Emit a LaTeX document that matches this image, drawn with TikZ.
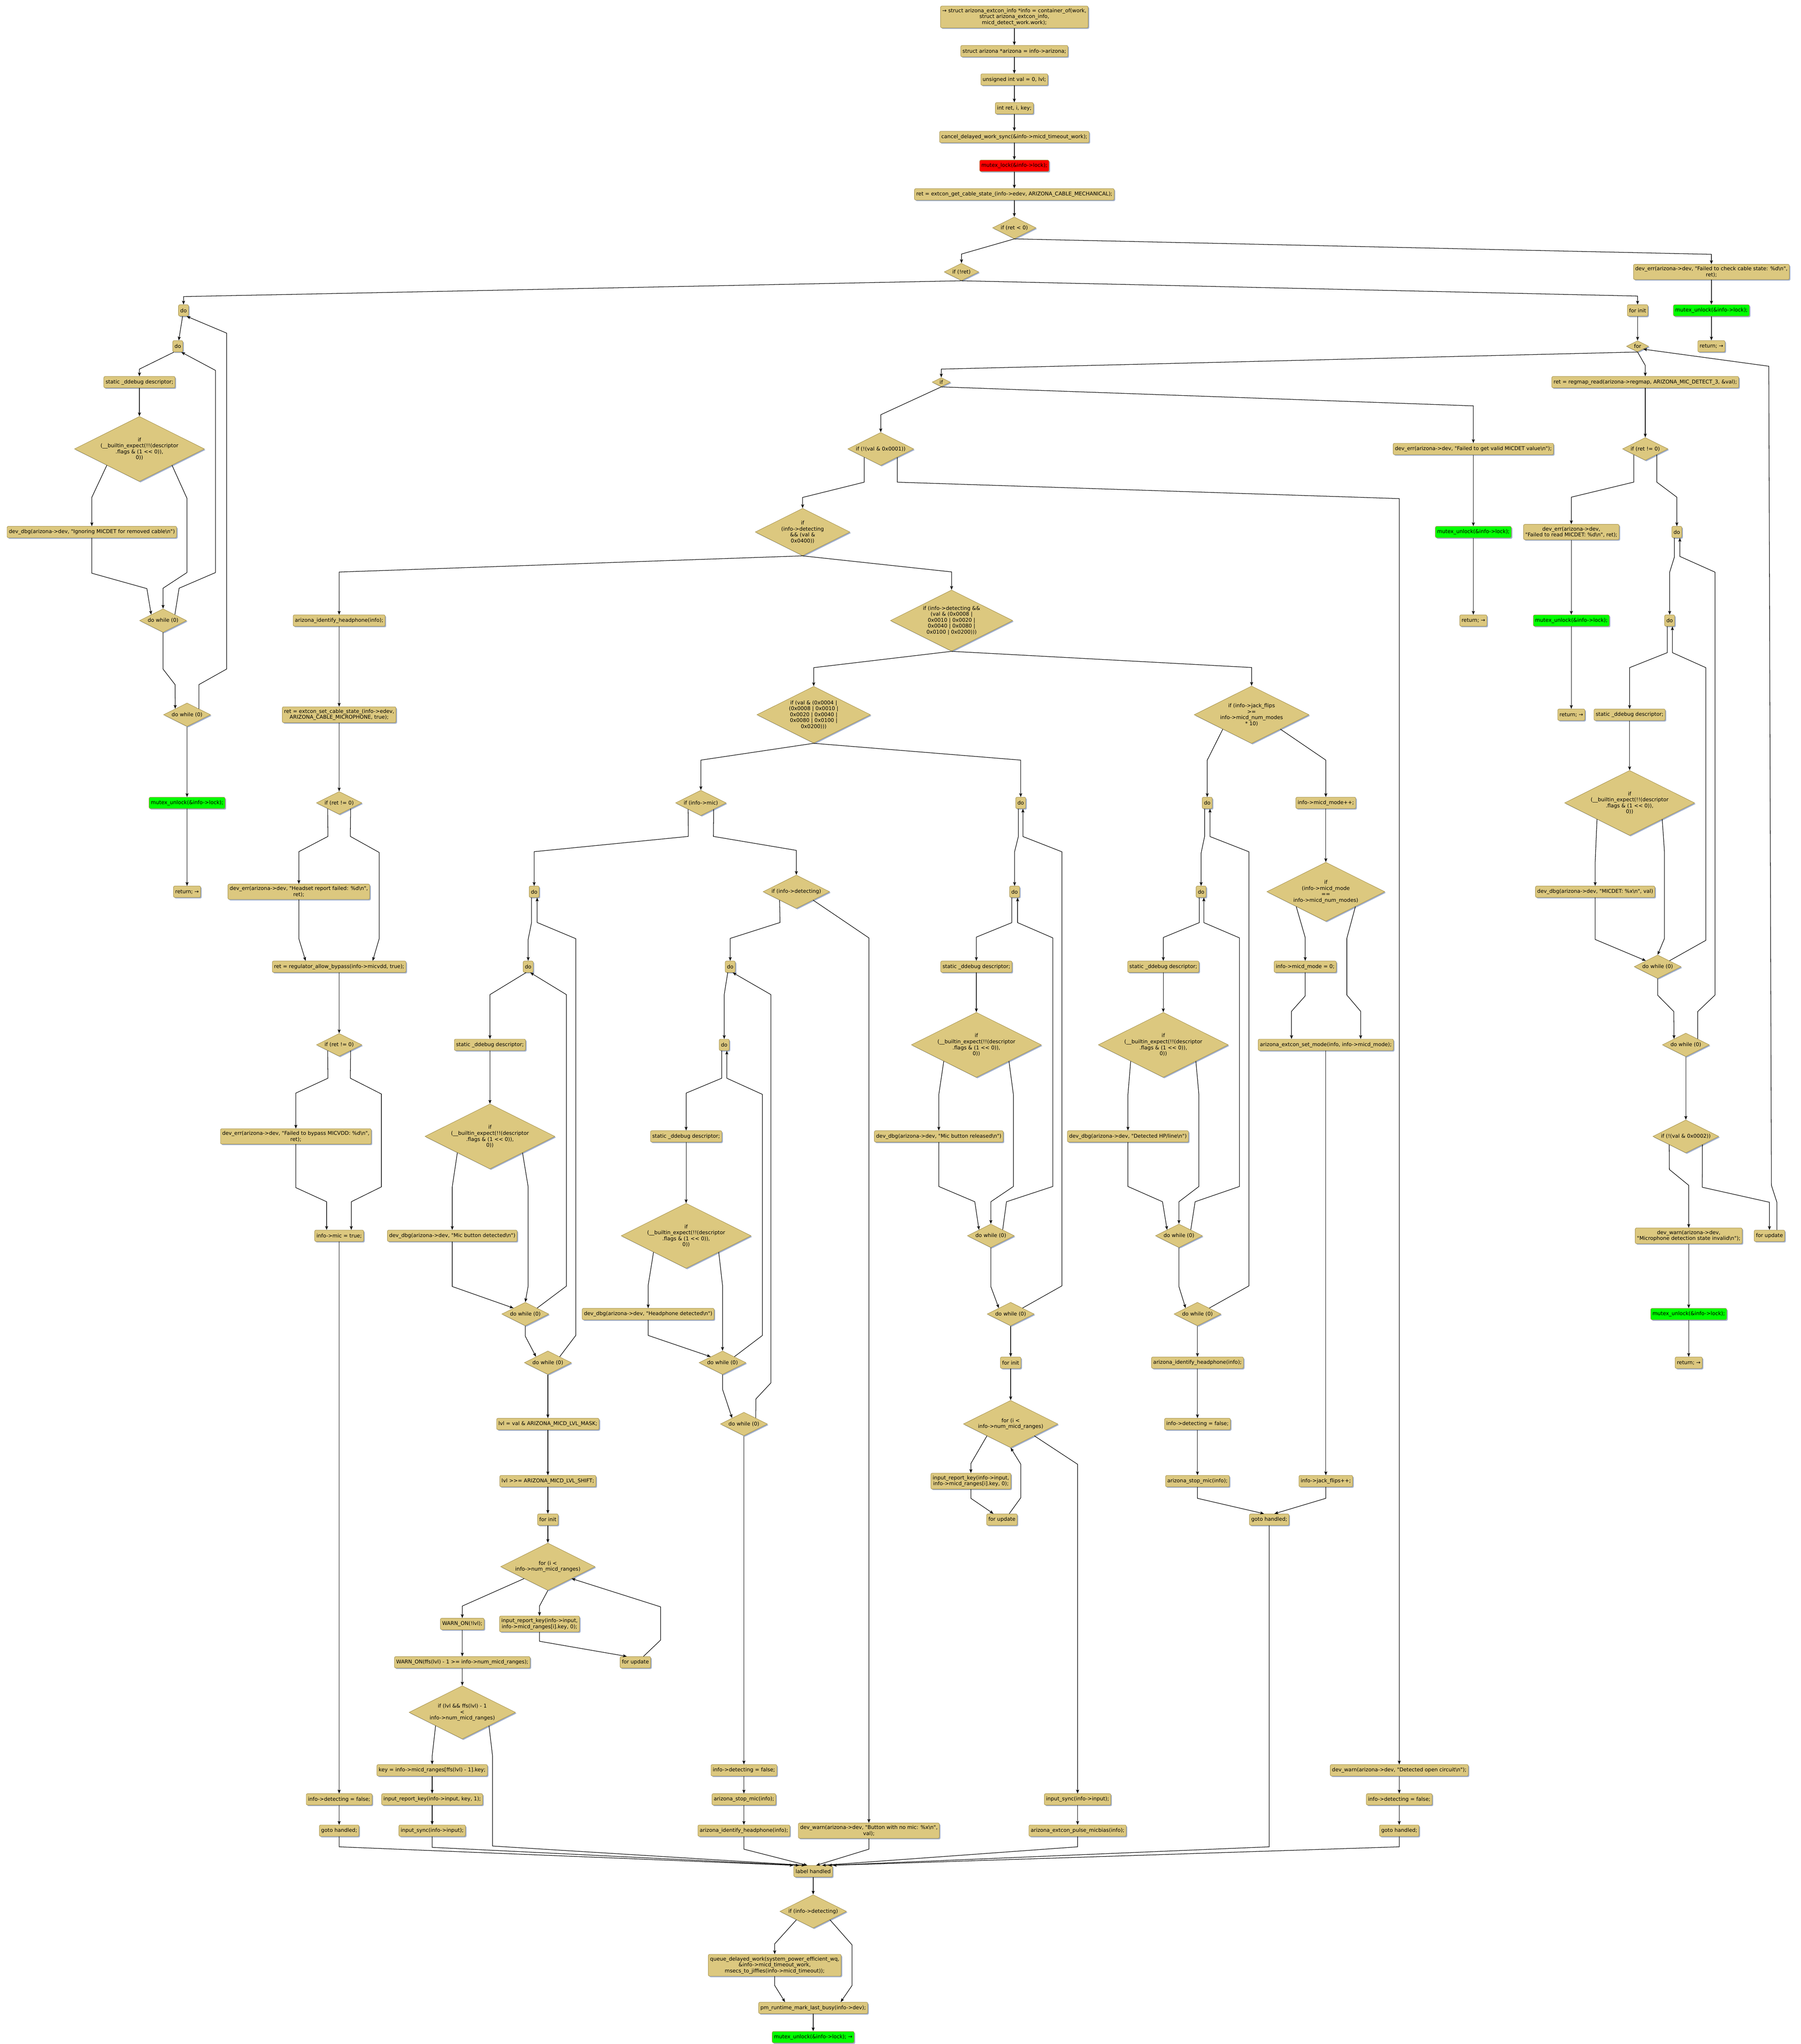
\documentclass[tikz,border=0pt]{standalone}
\usepackage{fontspec}
\newfontfamily\codefont{DejaVu Sans}
\usetikzlibrary{shapes.geometric,arrows.meta,shadows}
\definecolor{nodefill}{RGB}{220,200,127}
\definecolor{nodeline}{RGB}{165,145,75}
\definecolor{shadowc}{RGB}{160,175,205}
\definecolor{lockred}{RGB}{255,0,0}
\definecolor{unlockgreen}{RGB}{0,255,0}

\tikzset{
  stmt/.style={rectangle, rounded corners=1mm, draw=nodeline, fill=nodefill,
    line width=0.3mm, inner xsep=1.35mm, inner ysep=1.8mm, minimum height=8.7mm,
    align=center, drop shadow={shadow xshift=0.8mm, shadow yshift=-0.8mm, fill=shadowc, opacity=1}},
  cond/.style={diamond, aspect=2, inner sep=0.9mm, draw=nodeline, fill=nodefill,
    line width=0.3mm, align=center,
    drop shadow={shadow xshift=0.8mm, shadow yshift=-0.8mm, fill=shadowc, opacity=1}},
  lockstmt/.style={stmt, fill=lockred},
  unlockstmt/.style={stmt, fill=unlockgreen},
  flow/.style={line width=0.4mm, -{Stealth[length=2.9mm,width=2.3mm,inset=0.6mm]}}
}

\begin{document}
\begin{tikzpicture}[x=1mm, y=-1mm, font=\codefont\fontsize{11.3}{13}\selectfont]
  \useasboundingbox (0,0) rectangle (1380.6,1567.2);

  \node[stmt] (start) at (777.6,13) {→ struct arizona\_extcon\_info *info = container\_of(work,\\struct arizona\_extcon\_info,\\micd\_detect\_work.work);};
  \node[stmt] (arz) at (777.6,39.2) {struct arizona *arizona = info->arizona;};
  \node[stmt] (valdecl) at (777.6,61) {unsigned int val = 0, lvl;};
  \node[stmt] (retdecl) at (777.6,83) {int ret, i, key;};
  \node[stmt] (cancel) at (777.6,105) {cancel\_delayed\_work\_sync(\&info->micd\_timeout\_work);};
  \node[lockstmt] (lock) at (777.6,127.1) {mutex\_lock(\&info->lock);};
  \node[stmt] (getstate) at (777.6,149) {ret = extcon\_get\_cable\_state\_(info->edev, ARIZONA\_CABLE\_MECHANICAL);};
  \node[cond] (ifneg) at (777.6,174.7) {if (ret < 0)};
  \node[cond] (ifnot) at (737.1,208.5) {if (!ret)};
  \node[stmt] (errstate) at (1312,208.5) {dev\_err(arizona->dev, "Failed to check cable state: \%d\textbackslash n",\\ret);};
  \node[unlockstmt] (unlockA) at (1312,238) {mutex\_unlock(\&info->lock);};
  \node[stmt] (retA) at (1312,265.5) {return; →};
  \node[stmt] (forinit) at (1255.4,238) {for init};
  \node[cond] (fordia) at (1255.4,265.5) {for};

  \node[stmt] (doA1) at (140.7,238) {do};
  \node[stmt] (doA2) at (136.3,265.5) {do};
  \node[stmt] (ddA) at (106.9,293) {static \_ddebug descriptor;};
  \node[cond] (ifdbgA) at (106.9,344.2) {if\\(\_\_builtin\_expect(!!(descriptor\\.flags \& (1 << 0)),\\0))};
  \node[stmt] (dbgA) at (70.4,407.9) {dev\_dbg(arizona->dev, "Ignoring MICDET for removed cable\textbackslash n")};
  \node[cond] (dwA1) at (125,475.8) {do while (0)};
  \node[cond] (dwA2) at (143.4,548) {do while (0)};
  \node[unlockstmt] (unlockB) at (143.4,615.6) {mutex\_unlock(\&info->lock);};
  \node[stmt] (retB) at (143.4,683.7) {return; →};

  \node[stmt] (regmap) at (1261.3,293) {ret = regmap\_read(arizona->regmap, ARIZONA\_MIC\_DETECT\_3, \&val);};
  \node[cond] (ifreterr) at (1261.3,344.2) {if (ret != 0)};
  \node[stmt] (errread) at (1204.6,407.9) {dev\_err(arizona->dev,\\"Failed to read MICDET: \%d\textbackslash n", ret);};
  \node[stmt] (doH1) at (1285.5,407.9) {do};
  \node[unlockstmt] (unlockC) at (1204.6,475.8) {mutex\_unlock(\&info->lock);};
  \node[stmt] (doH2) at (1280,475.8) {do};
  \node[stmt] (retC) at (1204.6,548) {return; →};
  \node[stmt] (ddH) at (1249.3,548) {static \_ddebug descriptor;};
  \node[cond] (ifdbgH) at (1249.3,615.6) {if\\(\_\_builtin\_expect(!!(descriptor\\.flags \& (1 << 0)),\\0))};
  \node[stmt] (dbgH) at (1222.9,683.7) {dev\_dbg(arizona->dev, "MICDET: \%x\textbackslash n", val)};
  \node[cond] (dwH1) at (1270.8,741.2) {do while (0)};
  \node[cond] (dwH2) at (1292.4,801.1) {do while (0)};
  \node[cond] (ifvalid) at (1292.4,871.3) {if (!(val \& 0x0002))};
  \node[stmt] (warninv) at (1294.6,947.5) {dev\_warn(arizona->dev,\\"Microphone detection state invalid\textbackslash n");};
  \node[stmt] (forupd) at (1356.5,947.5) {for update};
  \node[unlockstmt] (unlockD) at (1294.6,1007.5) {mutex\_unlock(\&info->lock);};
  \node[stmt] (retD) at (1294.6,1044.8) {return; →};

  \node[cond] (ifretry) at (721.6,293) {if};
  \node[stmt] (errvalid) at (1129.5,344.2) {dev\_err(arizona->dev, "Failed to get valid MICDET value\textbackslash n");};
  \node[unlockstmt] (unlockE) at (1129.5,407.9) {mutex\_unlock(\&info->lock);};
  \node[stmt] (retE) at (1129.5,475.8) {return; →};
  \node[cond] (ifsts) at (675.2,344.2) {if (!(val \& 0x0001))};
  \node[stmt] (warnopen) at (1072.7,1357.3) {dev\_warn(arizona->dev, "Detected open circuit\textbackslash n");};
  \node[stmt] (detoffG) at (1072.7,1379.6) {info->detecting = false;};
  \node[stmt] (gotoG) at (1072.7,1403.6) {goto handled;};

  \node[cond] (ifhigh) at (615.3,407.9) {if\\(info->detecting\\\&\& (val \&\\0x0400))};
  \node[cond] (iflow) at (729.5,475.8) {if (info->detecting \&\&\\(val \& (0x0008 |\\0x0010 | 0x0020 |\\0x0040 | 0x0080 |\\0x0100 | 0x0200)))};
  \node[cond] (ifshort) at (623.8,548) {if (val \& (0x0004 |\\(0x0008 | 0x0010 |\\0x0020 | 0x0040 |\\0x0080 | 0x0100 |\\0x0200)))};
  \node[stmt] (identB) at (260,475.8) {arizona\_identify\_headphone(info);};
  \node[stmt] (setmic) at (260,548) {ret = extcon\_set\_cable\_state\_(info->edev,\\ARIZONA\_CABLE\_MICROPHONE, true);};
  \node[cond] (ifhset) at (260,615.6) {if (ret != 0)};
  \node[stmt] (errhset) at (229.1,683.7) {dev\_err(arizona->dev, "Headset report failed: \%d\textbackslash n",\\ret);};
  \node[stmt] (bypass) at (260,741.2) {ret = regulator\_allow\_bypass(info->micvdd, true);};
  \node[cond] (ifbypass) at (260,801.1) {if (ret != 0)};
  \node[stmt] (errbypass) at (226.8,871.3) {dev\_err(arizona->dev, "Failed to bypass MICVDD: \%d\textbackslash n",\\ret);};
  \node[stmt] (micon) at (260,947.5) {info->mic = true;};
  \node[stmt] (detoffB) at (260,1379.6) {info->detecting = false;};
  \node[stmt] (gotoB) at (260,1403.6) {goto handled;};

  \node[cond] (ifmic) at (537.3,615.6) {if (info->mic)};
  \node[cond] (ifdet) at (610.5,683.7) {if (info->detecting)};
  \node[stmt] (doC1) at (409.5,683.7) {do};
  \node[stmt] (doC2) at (404.9,741.2) {do};
  \node[stmt] (ddC) at (375.6,801.1) {static \_ddebug descriptor;};
  \node[cond] (ifdbgC) at (375.6,871.3) {if\\(\_\_builtin\_expect(!!(descriptor\\.flags \& (1 << 0)),\\0))};
  \node[stmt] (dbgC) at (346.7,947.5) {dev\_dbg(arizona->dev, "Mic button detected\textbackslash n")};
  \node[cond] (dwC1) at (402.7,1007.5) {do while (0)};
  \node[cond] (dwC2) at (420,1044.8) {do while (0)};
  \node[stmt] (lvlmask) at (420,1091.8) {lvl = val \& ARIZONA\_MICD\_LVL\_MASK;};
  \node[stmt] (lvlshift) at (420,1135.6) {lvl >>= ARIZONA\_MICD\_LVL\_SHIFT;};
  \node[stmt] (forinitC) at (420,1165.1) {for init};
  \node[cond] (forC) at (420,1201.2) {for (i <\\info->num\_micd\_ranges)};
  \node[stmt] (warnlvl) at (354.4,1245.1) {WARN\_ON(!lvl);};
  \node[stmt] (relC) at (413.6,1245.1) {input\_report\_key(info->input,\\info->micd\_ranges[i].key, 0);};
  \node[stmt] (forupdC) at (487.1,1274.5) {for update};
  \node[stmt] (warnffs) at (354.4,1274.5) {WARN\_ON(ffs(lvl) - 1 >= info->num\_micd\_ranges);};
  \node[cond] (iflvl) at (354.4,1312.9) {if (lvl \&\& ffs(lvl) - 1\\<\\info->num\_micd\_ranges)};
  \node[stmt] (keyset) at (331.3,1357.3) {key = info->micd\_ranges[ffs(lvl) - 1].key;};
  \node[stmt] (press) at (331.3,1379.6) {input\_report\_key(info->input, key, 1);};
  \node[stmt] (syncC) at (331.3,1403.6) {input\_sync(info->input);};

  \node[stmt] (doD1) at (559.8,741.2) {do};
  \node[stmt] (doD2) at (555.2,801.1) {do};
  \node[stmt] (ddD) at (526,871.3) {static \_ddebug descriptor;};
  \node[cond] (ifdbgD) at (526,947.5) {if\\(\_\_builtin\_expect(!!(descriptor\\.flags \& (1 << 0)),\\0))};
  \node[stmt] (dbgD) at (496.9,1007.5) {dev\_dbg(arizona->dev, "Headphone detected\textbackslash n")};
  \node[cond] (dwD1) at (553.9,1044.8) {do while (0)};
  \node[cond] (dwD2) at (570.3,1091.8) {do while (0)};
  \node[stmt] (detoffD) at (570.3,1357.3) {info->detecting = false;};
  \node[stmt] (stopD) at (570.3,1379.6) {arizona\_stop\_mic(info);};
  \node[stmt] (identD) at (570.3,1403.6) {arizona\_identify\_headphone(info);};
  \node[stmt] (warnbtn) at (666.1,1403.6) {dev\_warn(arizona->dev, "Button with no mic: \%x\textbackslash n",\\val);};

  \node[stmt] (doE1) at (782.5,615.6) {do};
  \node[stmt] (doE2) at (777.8,683.7) {do};
  \node[stmt] (ddE) at (748.5,741.2) {static \_ddebug descriptor;};
  \node[cond] (ifdbgE) at (748.5,801.1) {if\\(\_\_builtin\_expect(!!(descriptor\\.flags \& (1 << 0)),\\0))};
  \node[stmt] (dbgE) at (719.7,871.3) {dev\_dbg(arizona->dev, "Mic button released\textbackslash n")};
  \node[cond] (dwE1) at (759.6,947.5) {do while (0)};
  \node[cond] (dwE2) at (774.8,1007.5) {do while (0)};
  \node[stmt] (forinitE) at (774.8,1044.8) {for init};
  \node[cond] (forE) at (774.8,1091.8) {for (i <\\info->num\_micd\_ranges)};
  \node[stmt] (relE) at (744.3,1135.6) {input\_report\_key(info->input,\\info->micd\_ranges[i].key, 0);};
  \node[stmt] (forupdE) at (768.1,1165.1) {for update};
  \node[stmt] (syncE) at (826.1,1379.6) {input\_sync(info->input);};
  \node[stmt] (pulse) at (826.1,1403.6) {arizona\_extcon\_pulse\_micbias(info);};

  \node[cond] (ifflips) at (959.5,548) {if (info->jack\_flips\\>=\\info->micd\_num\_modes\\{}* 10)};
  \node[stmt] (doF1) at (925.5,615.6) {do};
  \node[stmt] (doF2) at (920.8,683.7) {do};
  \node[stmt] (ddF) at (891.8,741.2) {static \_ddebug descriptor;};
  \node[cond] (ifdbgF) at (891.8,801.1) {if\\(\_\_builtin\_expect(!!(descriptor\\.flags \& (1 << 0)),\\0))};
  \node[stmt] (dbgF) at (864.7,871.3) {dev\_dbg(arizona->dev, "Detected HP/line\textbackslash n")};
  \node[cond] (dwF1) at (903.8,947.5) {do while (0)};
  \node[cond] (dwF2) at (918,1007.5) {do while (0)};
  \node[stmt] (identF) at (918,1044.8) {arizona\_identify\_headphone(info);};
  \node[stmt] (detoffF) at (918,1091.8) {info->detecting = false;};
  \node[stmt] (stopF) at (918,1135.6) {arizona\_stop\_mic(info);};
  \node[stmt] (gotoF) at (973,1165.1) {goto handled;};
  \node[stmt] (modeinc) at (1016.4,615.6) {info->micd\_mode++;};
  \node[cond] (ifwrap) at (1016.4,683.7) {if\\(info->micd\_mode\\==\\info->micd\_num\_modes)};
  \node[stmt] (modezero) at (1000.6,741.2) {info->micd\_mode = 0;};
  \node[stmt] (setmode) at (1016.4,801.1) {arizona\_extcon\_set\_mode(info, info->micd\_mode);};
  \node[stmt] (flipinc) at (1016.4,1135.6) {info->jack\_flips++;};

  \node[stmt] (handled) at (623.4,1434.7) {label handled};
  \node[cond] (ifdetH) at (623.4,1465.5) {if (info->detecting)};
  \node[stmt] (requeue) at (593.9,1506.8) {queue\_delayed\_work(system\_power\_efficient\_wq,\\\&info->micd\_timeout\_work,\\msecs\_to\_jiffies(info->micd\_timeout));};
  \node[stmt] (busy) at (623.4,1539.5) {pm\_runtime\_mark\_last\_busy(info->dev);};
  \node[unlockstmt] (unlockF) at (623.4,1561.9) {mutex\_unlock(\&info->lock); →};

  \draw[flow] (start) -- (arz);
  \draw[flow] (arz) -- (valdecl);
  \draw[flow] (valdecl) -- (retdecl);
  \draw[flow] (retdecl) -- (cancel);
  \draw[flow] (cancel) -- (lock);
  \draw[flow] (lock) -- (getstate);
  \draw[flow] (getstate) -- (ifneg);
  \draw[flow] (ifneg.south) -- (737.1,194.8) -- (ifnot);
  \draw[flow] (ifneg.south) -- (1312,195) -- (errstate);
  \draw[flow] (errstate) -- (unlockA);
  \draw[flow] (unlockA) -- (retA);
  \draw[flow] (ifnot.south) -- (140.7,227.4) -- (doA1);
  \draw[flow] (ifnot.south) -- (1255.4,227) -- (forinit);
  \draw[flow] (forinit) -- (fordia);
  \draw[flow] (fordia.south) -- (721.6,283) -- (ifretry);
  \draw[flow] (fordia.south) -- (1261.3,280.2) -- (regmap);

  \draw[flow] (regmap) -- (ifreterr);
  \draw[flow] (ifreterr.south west) -- ++(0,21) -- (1204.6,381.2) -- (errread);
  \draw[flow] (ifreterr.south east) -- ++(0,21) -- (1285.5,381.2) -- (doH1);
  \draw[flow] (errread) -- (unlockC);
  \draw[flow] (unlockC) -- (retC);
  \draw[flow] ([xshift=-1.9mm]doH1.south) -- (1283.6,427.2) -- (1280,438.7) -- (doH2);
  \draw[flow] ([xshift=-1.8mm]doH2.south) -- (1278.2,500.4) -- (1249.3,511.9) -- (ddH);
  \draw[flow] (ddH) -- (ifdbgH);
  \draw[flow] (ifdbgH.south west) -- (1222.9,660.6) -- (dbgH);
  \draw[flow] (ifdbgH.south east) -- (1276,653) -- (1276,719.6) -- (dwH1.north);
  \draw[flow] (dbgH.south) -- (1222.9,720.3) -- (dwH1.north west);
  \draw[flow] (dwH1.south) -- ++(0,12.7) -- (1283.2,775.6) -- (dwH2.north west);
  \draw[flow] (dwH1.north east) -- (1307.7,721) -- (1307.7,511.9) -- (1282.1,500.4) -- ([xshift=2.1mm]doH2.south);
  \draw[flow] (dwH2.north east) -- (1301.5,775.6) -- (1314.8,762.9) -- (1314.8,438.7) -- (1287.8,426.6) -- ([xshift=2.3mm]doH1.south);
  \draw[flow] (dwH2) -- (ifvalid);
  \draw[flow] (ifvalid.south west) -- (1279.8,896.7) -- (1294.6,908.8) -- (warninv);
  \draw[flow] (ifvalid.south east) -- (1305,910.3) -- (1356.5,921.8) -- (forupd);
  \draw[flow] (warninv) -- (unlockD);
  \draw[flow] (unlockD) -- (retD);
  \draw[flow] ([xshift=5.7mm]forupd.north) -- (1362.2,921.8) -- (1358,908.8) -- (1356,280.8) -- (fordia.south east);

  \draw[flow] (ifretry.south) -- (675.2,318) -- (ifsts);
  \draw[flow] (ifretry.south) -- (1129.5,311.2) -- (errvalid);
  \draw[flow] (errvalid) -- (unlockE);
  \draw[flow] (unlockE) -- (retE);
  \draw[flow] (ifsts.south west) -- (662.5,369.7) -- (615.3,381.4) -- (ifhigh);
  \draw[flow] (ifsts.south east) -- (687.9,369.7) -- (1072.7,382.3) -- (warnopen);
  \draw[flow] (warnopen) -- (detoffG);
  \draw[flow] (detoffG) -- (gotoG);
  \draw[flow] (gotoG.south) -- (1072.7,1416) -- ([xshift=15.1mm]handled.north);

  \draw[flow] (ifhigh.south) -- (260,438.6) -- (identB);
  \draw[flow] (ifhigh.south) -- (729.5,438.5) -- (iflow);
  \draw[flow] (iflow.south) -- (623.8,511.9) -- (ifshort);
  \draw[flow] (iflow.south) -- (959.5,511.8) -- (ifflips);
  \draw[flow] (ifshort.south) -- (537.3,582.8) -- (ifmic);
  \draw[flow] (ifshort.south) -- (782.5,582.8) -- (doE1);

  \draw[flow] (identB) -- (setmic);
  \draw[flow] (setmic) -- (ifhset);
  \draw[flow] (ifhset.south west) -- (251.4,641.3) -- (229.1,653) -- (errhset);
  \draw[flow] (ifhset.south east) -- (268.6,641.3) -- (290.7,653.6) -- (290.7,719.7) -- ([xshift=25.7mm]bypass.north);
  \draw[flow] (errhset.south) -- (229.1,719.7) -- ([xshift=-25.7mm]bypass.north);
  \draw[flow] (bypass) -- (ifbypass);
  \draw[flow] (ifbypass.south west) -- (251.4,826.7) -- (226.8,838.1) -- (errbypass);
  \draw[flow] (ifbypass.south east) -- (268.6,826.7) -- (292.4,838.8) -- (292.4,910) -- (269.3,921.4) -- ([xshift=9.3mm]micon.north);
  \draw[flow] (errbypass.south) -- (226.8,910.6) -- (250.4,921.4) -- ([xshift=-9.6mm]micon.north);
  \draw[flow] (micon) -- (detoffB);
  \draw[flow] (detoffB) -- (gotoB);
  \draw[flow] (gotoB.south) -- (260,1416) -- ([xshift=-15.1mm]handled.north);

  \draw[flow] (ifmic.south west) -- (527.7,641.3) -- (409.5,653) -- (doC1);
  \draw[flow] (ifmic.south east) -- (546.9,641.3) -- (610.5,652) -- (ifdet);
  \draw[flow] ([xshift=-2mm]doC1.south) -- (407.5,707.3) -- (404.9,720.3) -- (doC2);
  \draw[flow] ([xshift=-1.6mm]doC2.south) -- (375.6,762.6) -- (ddC);
  \draw[flow] (ddC) -- (ifdbgC);
  \draw[flow] (ifdbgC.south west) -- (346.7,910) -- (dbgC);
  \draw[flow] (ifdbgC.south east) -- (404.9,910) -- (404.9,986) -- (dwC1.north);
  \draw[flow] (dbgC.south) -- (346.7,986.4) -- (dwC1.north west);
  \draw[flow] (dwC1.south) -- (402.7,1024.5) -- (dwC2.north west);
  \draw[flow] (dwC1.north east) -- (434.2,986.1) -- (434.2,762.6) -- ([xshift=1.6mm]doC2.south);
  \draw[flow] (dwC2.north east) -- (441.4,1023.9) -- (441.4,719.7) -- (411.8,707.3) -- ([xshift=2.3mm]doC1.south);
  \draw[flow] (dwC2) -- (lvlmask);
  \draw[flow] (lvlmask) -- (lvlshift);
  \draw[flow] (lvlshift) -- (forinitC);
  \draw[flow] (forinitC) -- (forC);
  \draw[flow] (forC.south west) -- (354.4,1231.4) -- (warnlvl);
  \draw[flow] (forC.south) -- (413.6,1231.4) -- (relC);
  \draw[flow] (relC.south) -- (413.6,1258.4) -- ([xshift=-6.6mm]forupdC.north);
  \draw[flow] ([xshift=6.2mm]forupdC.north) -- (506.4,1257.5) -- (506.4,1232) -- (forC.south east);
  \draw[flow] (warnlvl) -- (warnffs);
  \draw[flow] (warnffs) -- (iflvl);
  \draw[flow] (iflvl.south west) -- (331.3,1346.4) -- (keyset);
  \draw[flow] (iflvl.south east) -- (377.6,1346.4) -- (377.6,1415.4) -- ([xshift=-6mm]handled.north);
  \draw[flow] (keyset) -- (press);
  \draw[flow] (press) -- (syncC);
  \draw[flow] (syncC.south) -- (331.3,1416.4) -- ([xshift=-10.6mm]handled.north);

  \draw[flow] (ifdet.south west) -- (598,707.3) -- (559.8,719.5) -- (doD1);
  \draw[flow] (ifdet.south east) -- (666.1,719.1) -- (warnbtn);
  \draw[flow] ([xshift=-1.9mm]doD1.south) -- (555.2,762.6) -- (doD2);
  \draw[flow] ([xshift=-1.9mm]doD2.south) -- (553.3,826.7) -- (526,838.1) -- (ddD);
  \draw[flow] (ddD) -- (ifdbgD);
  \draw[flow] (ifdbgD.south west) -- (496.9,985.5) -- (dbgD);
  \draw[flow] (ifdbgD.south east) -- (553.9,985.5) -- (dwD1.north);
  \draw[flow] (dbgD.south) -- (496.9,1023.9) -- (dwD1.north west);
  \draw[flow] (dwD1.south) -- (553.9,1065.2) -- (dwD2.north west);
  \draw[flow] (dwD1.north east) -- (584.5,1023.9) -- (584.5,839.1) -- (557.2,826.7) -- ([xshift=2mm]doD2.south);
  \draw[flow] (dwD2.north east) -- (579.5,1072.6) -- (591,1060.3) -- (591,762.6) -- ([xshift=1.9mm]doD1.south);
  \draw[flow] (dwD2) -- (detoffD);
  \draw[flow] (detoffD) -- (stopD);
  \draw[flow] (stopD) -- (identD);
  \draw[flow] (identD.south) -- (570.3,1417.8) -- ([xshift=-4.5mm]handled.north);
  \draw[flow] (warnbtn.south) -- (666.1,1417.8) -- ([xshift=2.3mm]handled.north);

  \draw[flow] ([xshift=-1.8mm]doE1.south) -- (780.7,641.4) -- (777.8,653.1) -- (doE2);
  \draw[flow] ([xshift=-2.1mm]doE2.south) -- (775.7,707.4) -- (748.5,718.5) -- (ddE);
  \draw[flow] (ddE) -- (ifdbgE);
  \draw[flow] (ifdbgE.south west) -- (719.7,839.3) -- (dbgE);
  \draw[flow] (ifdbgE.south east) -- (776.9,839.3) -- (776.9,909.7) -- (759.6,921.4) -- (dwE1.north);
  \draw[flow] (dbgE.south) -- (719.7,909.7) -- (747.3,921.4) -- (dwE1.north west);
  \draw[flow] (dwE1.south) -- (759.6,986.5) -- (dwE2.north west);
  \draw[flow] (dwE1.north east) -- (771.6,921.4) -- (807.1,909.7) -- (807.1,719.1) -- (780.1,707.4) -- ([xshift=2.3mm]doE2.south);
  \draw[flow] (dwE2.north east) -- (814.1,985.9) -- (814.1,653.1) -- (784.2,641.4) -- ([xshift=1.7mm]doE1.south);
  \draw[flow] (dwE2) -- (forinitE);
  \draw[flow] (forinitE) -- (forE);
  \draw[flow] (forE.south west) -- (744.3,1122.1) -- (relE);
  \draw[flow] (forE.south east) -- (826.1,1122.7) -- (syncE);
  \draw[flow] (relE.south) -- (744.3,1148.8) -- ([xshift=-6.5mm]forupdE.north);
  \draw[flow] ([xshift=5.6mm]forupdE.north) -- (782.6,1148.3) -- (782.6,1122.7) -- (forE.south);
  \draw[flow] (syncE) -- (pulse);
  \draw[flow] (pulse.south) -- (826.1,1416) -- ([xshift=6.8mm]handled.north);

  \draw[flow] (ifflips.south west) -- (925.5,582.8) -- (doF1);
  \draw[flow] (ifflips.south east) -- (1016.4,582.8) -- (modeinc);
  \draw[flow] ([xshift=-2mm]doF1.south) -- (923.5,641.2) -- (920.8,654.1) -- (doF2);
  \draw[flow] ([xshift=-1.4mm]doF2.south) -- (919.4,707.4) -- (891.8,718.8) -- (ddF);
  \draw[flow] (ddF) -- (ifdbgF);
  \draw[flow] (ifdbgF.south west) -- (864.7,839.3) -- (dbgF);
  \draw[flow] (ifdbgF.south east) -- (919.1,839.3) -- (919.1,909.7) -- (903.8,921.4) -- (dwF1.north);
  \draw[flow] (dbgF.south) -- (864.7,909.7) -- (891.2,921.4) -- (dwF1.north west);
  \draw[flow] (dwF1.south) -- (903.8,986.5) -- (dwF2.north west);
  \draw[flow] (dwF1.north east) -- (916.2,921.4) -- (950.2,909.7) -- (950.2,719.1) -- (922.9,707.4) -- ([xshift=2.1mm]doF2.south);
  \draw[flow] (dwF2.north east) -- (957.5,985.9) -- (957.5,653.1) -- (927.6,641.4) -- ([xshift=2.1mm]doF1.south);
  \draw[flow] (dwF2) -- (identF);
  \draw[flow] (identF) -- (detoffF);
  \draw[flow] (detoffF) -- (stopF);
  \draw[flow] (stopF.south) -- (918,1148.8) -- ([xshift=-4mm]gotoF.north);
  \draw[flow] (flipinc.south) -- (1016.4,1148.8) -- ([xshift=4mm]gotoF.north);
  \draw[flow] (gotoF.south) -- (973,1416) -- ([xshift=11.4mm]handled.north);
  \draw[flow] (modeinc) -- (ifwrap);
  \draw[flow] (ifwrap.south west) -- (1000.6,718.8) -- (modezero);
  \draw[flow] (ifwrap.south east) -- (1032.5,719.5) -- (1032.5,762.9) -- (1043.1,775.4) -- ([xshift=26.7mm]setmode.north);
  \draw[flow] (modezero.south) -- (1000.6,763.6) -- (990.1,775.4) -- ([xshift=-26.3mm]setmode.north);
  \draw[flow] (setmode) -- (flipinc);

  \draw[flow] (doA1) -- (doA2);
  \draw[flow] ([xshift=-3mm]doA2.south) -- (106.9,283) -- (ddA);
  \draw[flow] (ddA) -- (ifdbgA);
  \draw[flow] (ifdbgA.south west) -- (70.4,381.3) -- (dbgA);
  \draw[flow] (ifdbgA.south east) -- (143.3,382) -- (143.3,439) -- (125,451) -- (dwA1);
  \draw[flow] (dbgA.south) -- (70.4,439.5) -- (112.6,451.3) -- (dwA1.north west);
  \draw[flow] (dwA1.south) -- (125,513) -- (134.2,524.9) -- (dwA2.north west);
  \draw[flow] (dwA1.north east) -- (137.3,451) -- (165.2,439) -- (165.2,284) -- ([xshift=2.7mm]doA2.south);
  \draw[flow] (dwA2.north east) -- (152.5,524.9) -- (173.7,513) -- (173.7,255.4) -- ([xshift=2.4mm]doA1.south);
  \draw[flow] (dwA2) -- (unlockB);
  \draw[flow] (unlockB) -- (retB);

  \draw[flow] (handled) -- (ifdetH);
  \draw[flow] (ifdetH.south west) -- (593.9,1490.4) -- (requeue);
  \draw[flow] (ifdetH.south east) -- (653.2,1491.2) -- (653.2,1522.3) -- ([xshift=21.1mm]busy.north);
  \draw[flow] (requeue.south) -- (593.9,1522.3) -- ([xshift=-21.6mm]busy.north);
  \draw[flow] (busy) -- (unlockF);
\end{tikzpicture}
\end{document}
